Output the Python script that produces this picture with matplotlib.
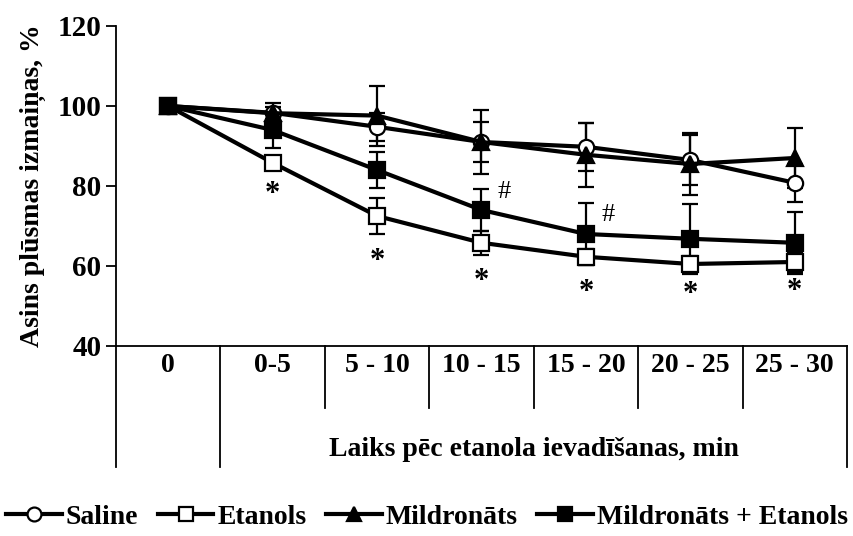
import matplotlib
matplotlib.use('Agg')
import matplotlib.pyplot as plt
import matplotlib.transforms as mtransforms
from matplotlib.lines import Line2D
import numpy as np

plt.rcParams['font.family'] = ['Liberation Serif', 'DejaVu Serif']
plt.rcParams['font.weight'] = 'bold'
plt.rcParams['axes.labelweight'] = 'bold'

# data
categories = ['0', '0-5', '5 - 10', '10 - 15', '15 - 20', '20 - 25', '25 - 30']

saline = [100, 98.3, 94.8, 91.0, 89.8, 86.5, 80.8]
saline_err = [0, 1.5, 3.5, 5.0, 6.0, 6.3, 4.8]

etanols = [100, 85.8, 72.5, 65.8, 62.3, 60.5, 61.0]
etanols_err = [0, 1.5, 4.5, 3.0, 2.0, 2.0, 2.5]

mildronats = [100, 98.2, 97.6, 91.0, 87.8, 85.5, 87.0]
mildronats_err = [0, 2.5, 7.5, 8.0, 8.0, 7.7, 7.5]

mild_etanols = [100, 94.0, 84.0, 74.0, 68.0, 66.8, 65.8]
mild_etanols_err = [0, 4.5, 4.5, 5.2, 7.8, 8.8, 7.8]

star_y = [None, 77.8, 61.0, 56.0, 53.3, 52.8, 53.5]
hash_cats = [3, 4]
hash_y = [78.5, 72.8]

series_names = ['Saline', 'Etanols', 'Mildronāts', 'Mildronāts + Etanols']

fig = plt.figure(figsize=(8.54, 5.36), dpi=100)
ax = fig.add_axes([0.1358, 0.3545, 0.8560, 0.597])

x = np.arange(len(categories))

styles = [
    (saline, saline_err, 'o', 'white'),
    (etanols, etanols_err, 's', 'white'),
    (mildronats, mildronats_err, '^', 'black'),
    (mild_etanols, mild_etanols_err, 's', 'black'),
]

handles = []
for (vals, errs, mk, fc), name in zip(styles, series_names):
    ax.errorbar(x, vals, yerr=errs, color='black', lw=3.0, marker=mk,
                markersize=11, markerfacecolor=fc, markeredgecolor='black',
                markeredgewidth=1.6, ecolor='black', elinewidth=1.6,
                capsize=6, capthick=1.6)
    handles.append(Line2D([], [], color='black', lw=3.0, marker=mk,
                          markersize=10, markerfacecolor=fc,
                          markeredgecolor='black', markeredgewidth=1.6))

for xi, yv in zip(x, star_y):
    if yv is not None:
        ax.text(xi, yv, '*', ha='center', va='center', fontsize=22)
for xi, yv in zip(hash_cats, hash_y):
    ax.text(xi + 0.15, yv, '#', ha='left', va='center', fontsize=19,
            fontweight='normal')

ax.set_xlim(-0.5, len(categories) - 0.5)
ax.set_ylim(40, 120)
ax.set_yticks([40, 60, 80, 100, 120])
ax.tick_params(axis='y', labelsize=21, length=7, width=1.3, direction='out')
ax.set_xticks([])
ax.spines['top'].set_visible(False)
ax.spines['right'].set_visible(False)
ax.spines['left'].set_linewidth(1.3)
ax.spines['bottom'].set_linewidth(1.3)
ax.set_ylabel('Asins plūsmas izmaiņas, %', fontsize=20, labelpad=8)

# table under the x axis
trans = mtransforms.blended_transform_factory(ax.transData, ax.transAxes)
for b in np.arange(0.5, len(categories) - 1, 1.0):
    y_end = -0.378 if b == 0.5 else -0.194
    ax.plot([b, b], [0, y_end], color='black', lw=1.3, transform=trans,
            clip_on=False)
ax.plot([-0.5, -0.5], [0, -0.378], color='black', lw=1.3, transform=trans,
        clip_on=False)
ax.plot([len(categories) - 0.5] * 2, [0, -0.378], color='black', lw=1.3,
        transform=trans, clip_on=False)
for xi, lab in zip(x, categories):
    ax.text(xi, -0.06, lab, ha='center', va='center', fontsize=20,
            transform=trans)
ax.text(3.5, -0.325, 'Laiks pēc etanola ievadīšanas, min', ha='center',
        va='center', fontsize=20, transform=trans)

fig.legend(handles=handles, labels=series_names, loc='center',
           bbox_to_anchor=(0.5, 0.035), ncol=4, frameon=False, fontsize=20,
           handlelength=2.0, handletextpad=0.15, columnspacing=0.7,
           borderaxespad=0)

fig.savefig('out.png', dpi=100)
